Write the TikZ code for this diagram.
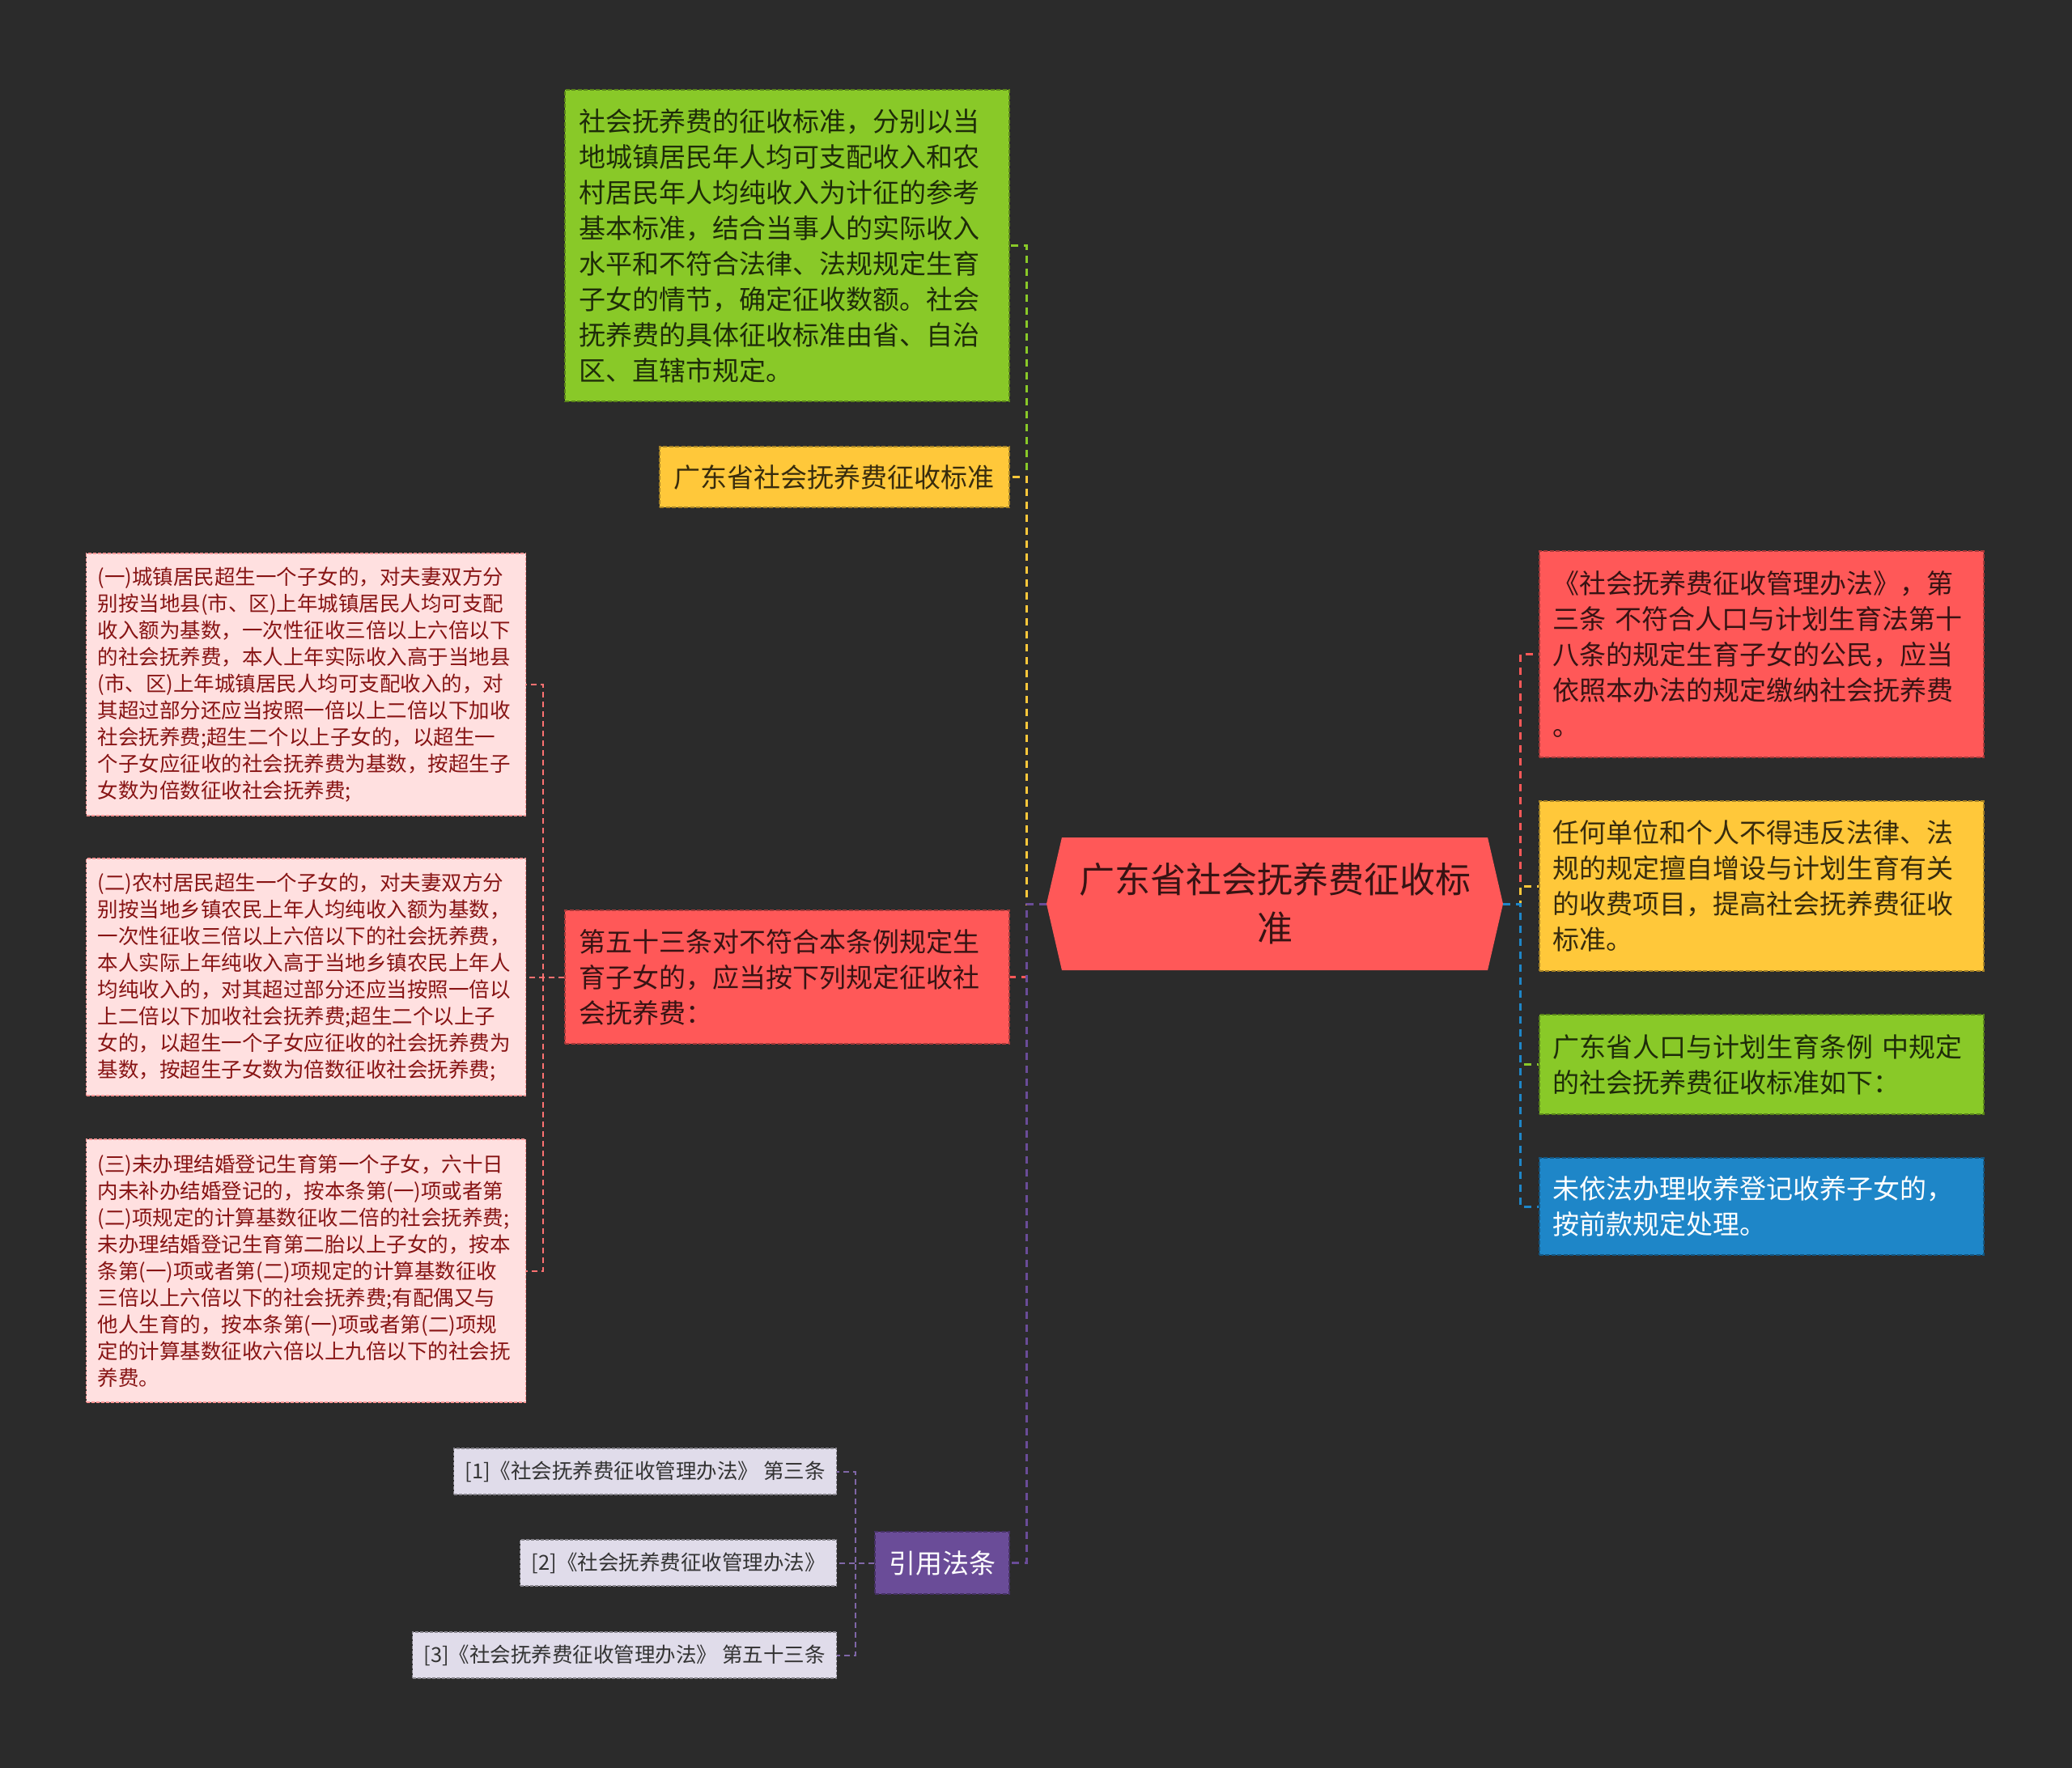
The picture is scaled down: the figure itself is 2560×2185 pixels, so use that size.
\documentclass[tikz,border=0pt]{standalone}
\usepackage{fontspec}
\setmainfont{Noto Sans CJK SC}
\usepackage{tikz}
\usetikzlibrary{positioning,shapes.symbols}
\definecolor{bgdark}{RGB}{43,43,43}
\definecolor{cgreen}{RGB}{137,201,40}
\definecolor{cyellow}{RGB}{255,200,58}
\definecolor{cred}{RGB}{255,88,88}
\definecolor{cpink}{RGB}{255,224,224}
\definecolor{cpinktxt}{RGB}{135,20,20}
\definecolor{cpurple}{RGB}{106,76,152}
\definecolor{clav}{RGB}{224,220,234}
\definecolor{cblue}{RGB}{30,134,200}
\newcommand{\fsmain}{\fontsize{33pt}{44pt}\selectfont}
\newcommand{\fssub}{\fontsize{25.5pt}{33pt}\selectfont}
\newcommand{\fsroot}{\fontsize{44pt}{60pt}\selectfont}
\tikzset{
  mbox/.style={rectangle,fill=#1,draw=#1!65!black,text=#1!22!black,
               line width=1.5pt,dash pattern=on 5pt off 2.5pt,
               inner xsep=17pt,inner ysep=0pt,align=left,font=\fsmain},
  mbox/.default=cgreen,
  sbox/.style={rectangle,fill=#1,draw=#1!60!black,text=black!80,
               line width=1.2pt,dash pattern=on 4pt off 2pt,
               inner xsep=14pt,inner ysep=0pt,align=left,font=\fssub},
  sbox/.default=clav,
  link/.style={line width=3pt,dash pattern=on 9pt off 7pt},
  sublink/.style={line width=2pt,dash pattern=on 7pt off 5pt},
}
\begin{document}
\begin{tikzpicture}[x=1pt,y=-1pt,node distance=45pt]
  \fill[bgdark] (0,0) rectangle (2560,2185);
  \useasboundingbox (0,0) rectangle (2560,2185);

  % --- 中心主题 ---
  \node[signal,signal to=west and east,signal pointer angle=154,
        fill=cred,text=cred!22!black,font=\fsroot,align=center,
        minimum width=564pt,minimum height=164pt,inner sep=0pt]
    (ctr) at (1575,1117) {广东省社会抚养费征收标\\准};

  % --- 左侧分支 ---
  \node[mbox=cgreen,text width=515pt,minimum height=385pt,
        left=45pt of ctr,yshift=813.5pt] (std)
    {社会抚养费的征收标准，分别以当\\
     地城镇居民年人均可支配收入和农\\
     村居民年人均纯收入为计征的参考\\
     基本标准，结合当事人的实际收入\\
     水平和不符合法律、法规规定生育\\
     子女的情节，确定征收数额。社会\\
     抚养费的具体征收标准由省、自治\\
     区、直辖市规定。};

  \node[mbox=cyellow,text width=398pt,minimum height=75pt,
        left=45pt of ctr,yshift=527.5pt] (prov)
    {广东省社会抚养费征收标准};

  \node[mbox=cred,text width=515pt,minimum height=165pt,
        left=45pt of ctr,yshift=-90.5pt] (art)
    {第五十三条对不符合本条例规定生\\
     育子女的，应当按下列规定征收社\\
     会抚养费：};

  \node[mbox=cpurple,text=white,minimum height=77pt,
        left=45pt of ctr,yshift=-814.5pt] (cite) {引用法条};

  % --- 第五十三条各项 ---
  \node[sbox=cpink,draw=cred!55!cpink,text=cpinktxt,text width=515pt,
        minimum height=324pt,left=47pt of art,yshift=361.5pt] (p1)
    {(一)城镇居民超生一个子女的，对夫妻双方分\\
     别按当地县(市、区)上年城镇居民人均可支配\\
     收入额为基数，一次性征收三倍以上六倍以下\\
     的社会抚养费，本人上年实际收入高于当地县\\
     (市、区)上年城镇居民人均可支配收入的，对\\
     其超过部分还应当按照一倍以上二倍以下加收\\
     社会抚养费;超生二个以上子女的，以超生一\\
     个子女应征收的社会抚养费为基数，按超生子\\
     女数为倍数征收社会抚养费;};

  \node[sbox=cpink,draw=cred!55!cpink,text=cpinktxt,text width=515pt,
        minimum height=293pt,left=47pt of art] (p2)
    {(二)农村居民超生一个子女的，对夫妻双方分\\
     别按当地乡镇农民上年人均纯收入额为基数，\\
     一次性征收三倍以上六倍以下的社会抚养费，\\
     本人实际上年纯收入高于当地乡镇农民上年人\\
     均纯收入的，对其超过部分还应当按照一倍以\\
     上二倍以下加收社会抚养费;超生二个以上子\\
     女的，以超生一个子女应征收的社会抚养费为\\
     基数，按超生子女数为倍数征收社会抚养费;};

  \node[sbox=cpink,draw=cred!55!cpink,text=cpinktxt,text width=515pt,
        minimum height=325pt,left=47pt of art,yshift=-363pt] (p3)
    {(三)未办理结婚登记生育第一个子女，六十日\\
     内未补办结婚登记的，按本条第(一)项或者第\\
     (二)项规定的计算基数征收二倍的社会抚养费;\\
     未办理结婚登记生育第二胎以上子女的，按本\\
     条第(一)项或者第(二)项规定的计算基数征收\\
     三倍以上六倍以下的社会抚养费;有配偶又与\\
     他人生育的，按本条第(一)项或者第(二)项规\\
     定的计算基数征收六倍以上九倍以下的社会抚\\
     养费。};

  % --- 引用法条 ---
  \node[sbox,minimum height=57pt,left=46pt of cite,yshift=113pt] (c1)
    {[1]《社会抚养费征收管理办法》 第三条};
  \node[sbox,minimum height=57pt,left=46pt of cite] (c2)
    {[2]《社会抚养费征收管理办法》};
  \node[sbox,minimum height=57pt,left=46pt of cite,yshift=-114pt] (c3)
    {[3]《社会抚养费征收管理办法》 第五十三条};

  % --- 右侧分支 ---
  \node[mbox=cred,text width=515pt,minimum height=255pt,
        right=44pt of ctr,yshift=308.5pt] (r1)
    {《社会抚养费征收管理办法》，第\\
     三条 不符合人口与计划生育法第十\\
     八条的规定生育子女的公民，应当\\
     依照本办法的规定缴纳社会抚养费\\
     。};

  \node[mbox=cyellow,text width=515pt,minimum height=210pt,
        right=44pt of ctr,yshift=22pt] (r2)
    {任何单位和个人不得违反法律、法\\
     规的规定擅自增设与计划生育有关\\
     的收费项目，提高社会抚养费征收\\
     标准。};

  \node[mbox=cgreen,text width=515pt,minimum height=123pt,
        right=44pt of ctr,yshift=-198.5pt] (r3)
    {广东省人口与计划生育条例 中规定\\
     的社会抚养费征收标准如下：};

  \node[mbox=cblue,text=white,text width=515pt,minimum height=120pt,
        right=44pt of ctr,yshift=-374pt] (r4)
    {未依法办理收养登记收养子女的，\\
     按前款规定处理。};

  % --- 连线 ---
  \foreach \n/\c in {std/cgreen,prov/cyellow,art/cred,cite/cpurple}
    \draw[link,\c] (ctr.west) -- ++(-24pt,0) |- (\n.east);
  \foreach \n/\c in {r1/cred,r2/cyellow,r3/cgreen,r4/cblue}
    \draw[link,\c] (ctr.east) -- ++(21pt,0) |- (\n.west);
  \foreach \n in {p1,p2,p3}
    \draw[sublink,cred!85!white] (art.west) -- ++(-26pt,0) |- (\n.east);
  \foreach \n in {c1,c2,c3}
    \draw[sublink,cpurple!85!white] (cite.west) -- ++(-23pt,0) |- (\n.east);
\end{tikzpicture}
\end{document}
